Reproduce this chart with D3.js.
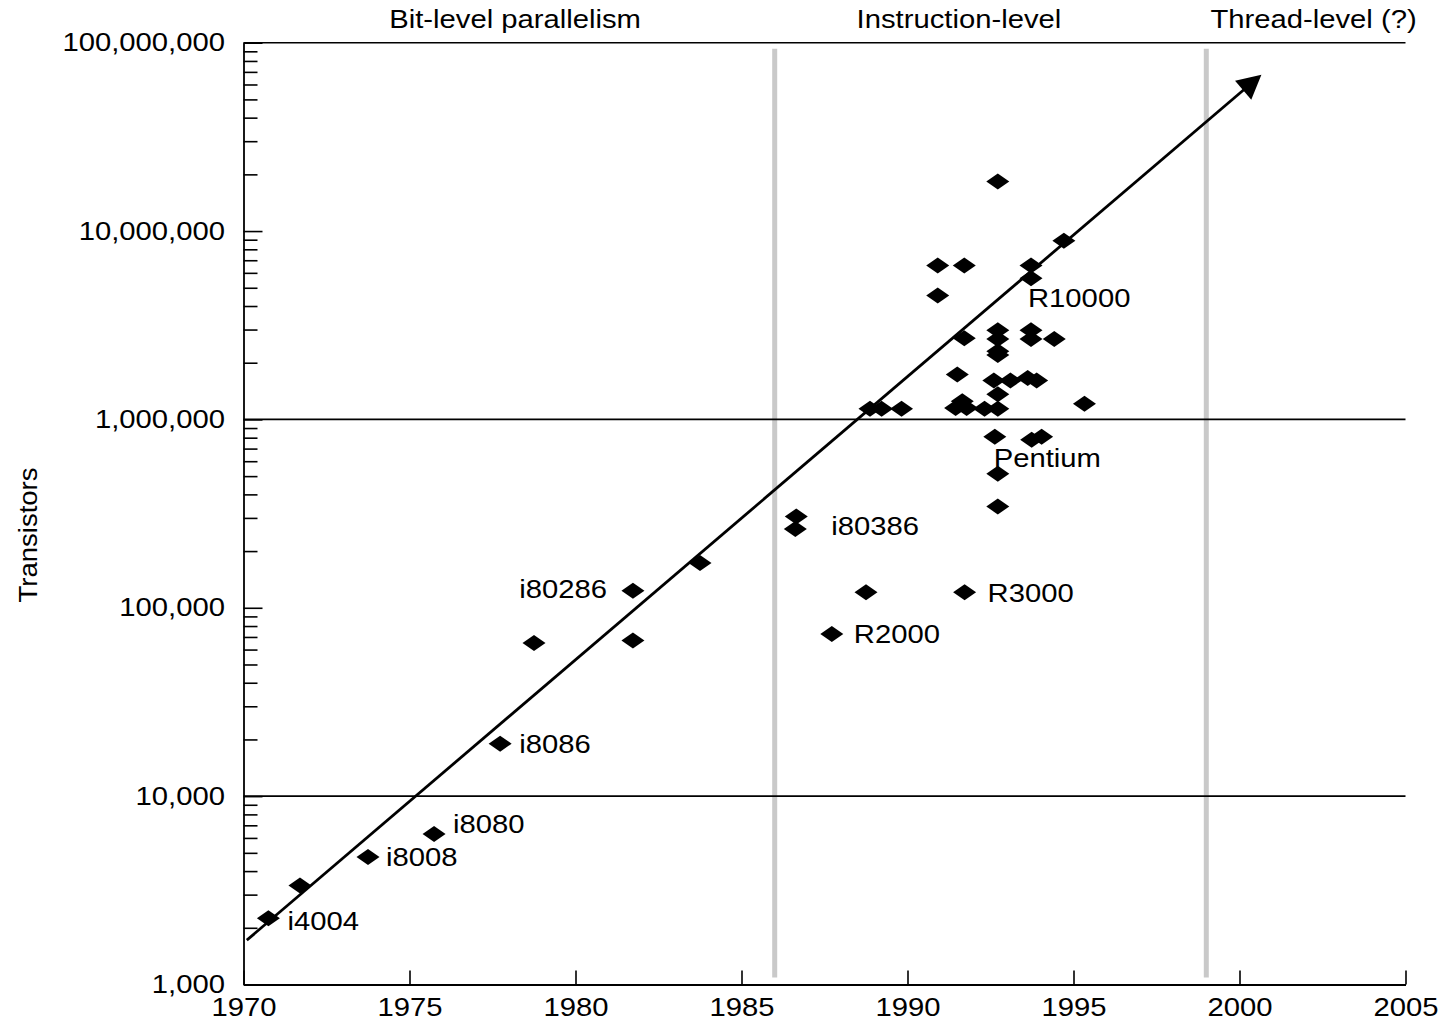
<!DOCTYPE html>
<html><head><meta charset="utf-8">
<script src="https://cdn.jsdelivr.net/npm/d3@7"></script>
<style>
body{margin:0;background:#fff}
text{font-family:"Liberation Sans",Arial,Helvetica,sans-serif;fill:#000}
</style>
</head><body>
<svg id="chart" width="1443" height="1021"></svg>
<script>
// ---------- data ----------
const years = [1970.75,1971.70,1973.75,1975.74,1977.73,1978.75,1981.73,1981.73,1983.75,
  1986.65,1986.62,1987.72,1988.75,1991.72,
  1988.87,1989.22,1989.82,1990.91,1990.91,1991.71,1991.71,1991.50,1991.45,1991.65,1991.78,
  1992.32,1992.72,1992.72,1992.72,1992.72,1992.72,1992.60,1992.72,1992.72,1992.63,1992.72,1992.72,
  1993.10,1993.62,1993.89,1993.72,1993.72,1993.72,1993.72,1993.74,1994.04,1994.42,1994.71,1995.33];
const transistors = [2250,3350,4750,6300,19000,65000,123000,67000,173000,
  305000,262000,72500,121000,121000,
  1140000,1140000,1140000,6560000,4550000,6560000,2700000,1730000,1150000,1250000,1150000,
  1140000,18300000,2970000,2670000,2300000,2200000,1610000,1360000,1140000,810000,514000,345000,
  1610000,1660000,1610000,6560000,5620000,2970000,2670000,780000,810000,2670000,8870000,1210000];

const labelNames  = ["i4004","i8008","i8080","i8086","i80286","i80386","R2000","R3000","Pentium","R10000"];
const labelYears  = [1970.75,1973.75,1975.74,1977.73,1981.73,1986.65,1987.72,1991.72,1993.74,1993.72];
const labelValues = [2250,4750,6300,19000,123000,305000,72500,121000,780000,5620000];

const eraNames   = ["Bit-level parallelism","Instruction-level","Thread-level (?)"];
const eraCenters = [1978.18,1991.55,2002.23];
const eraBoundaries = [1986,1999];

const xTicks = [1970,1975,1980,1985,1990,1995,2000,2005];
const yTicks = [1e3,1e4,1e5,1e6,1e7,1e8];
const yGridValues = [1e4,1e6];

const trendYears  = [1970.1,2000.66];
const trendValues = [1720,6.76e7];

// ---------- layout / style ----------
const W = 1443, H = 1021;
const FS = 25, STRETCH = 1.17;
const labelOffsets = [[19,12,"start"],[18,9,"start"],[19,-1,"start"],[19,9,"start"],[-26,7,"end"],
  [35,18,"start"],[22,9,"start"],[23,10,"start"],[-38,27,"start"],[-3,29,"start"]];

const svg = d3.select("#chart");
svg.append("rect").attr("width",W).attr("height",H).attr("fill","#fff");

const x = d3.scaleLinear().domain([1970,2005]).range([243.5,1405.5]);
const y = d3.scaleLog().domain([1e3,1e8]).range([984.5,42.7]);

function stretch(sel, s){
  sel.each(function(){
    const t = d3.select(this);
    const tx = +t.attr("x") || 0, ty = +t.attr("y") || 0;
    t.attr("x",0).attr("y",0).attr("transform",`translate(${tx},${ty}) scale(${s},1)`);
  });
}

// era boundaries (gray)
svg.append("g").selectAll("line").data(eraBoundaries).join("line")
  .attr("x1",d=>x(d)).attr("x2",d=>x(d))
  .attr("y1",y(1e8)+6).attr("y2",y(1e3)-7)
  .attr("stroke","#c9c9c9").attr("stroke-width",5);

// grid lines + top line
svg.append("g").selectAll("line").data(yGridValues.concat([1e8])).join("line")
  .attr("x1",x(1970)).attr("x2",x(2005))
  .attr("y1",d=>y(d)).attr("y2",d=>y(d))
  .attr("stroke","#000").attr("stroke-width",1.6);

// minor y ticks
const minorVals = [];
for (let e=3;e<8;e++) for (let m=2;m<=9;m++) minorVals.push(m*Math.pow(10,e));
svg.append("g").attr("transform",`translate(${x(1970)},0)`)
  .call(d3.axisLeft(y).tickValues(minorVals).tickSizeInner(-14).tickSizeOuter(0).tickFormat(""))
  .call(g=>g.selectAll("line").attr("stroke-width",1.6))
  .call(g=>g.select(".domain").remove());

// major y axis
const yAx = svg.append("g").attr("transform",`translate(${x(1970)},0)`)
  .call(d3.axisLeft(y).tickValues(yTicks).tickSizeInner(-19).tickSizeOuter(0).tickPadding(18.5)
    .tickFormat(d3.format(",")));
yAx.select(".domain").attr("stroke-width",1.8);
yAx.selectAll("line").attr("stroke-width",1.6);
yAx.selectAll("text").attr("font-size",FS).attr("font-family",null);
stretch(yAx.selectAll("text"), STRETCH);

// x axis
const xAx = svg.append("g").attr("transform",`translate(0,${y(1e3)})`)
  .call(d3.axisBottom(x).tickValues(xTicks).tickSizeInner(-14).tickSizeOuter(0).tickPadding(14)
    .tickFormat(d3.format("d")));
xAx.select(".domain").attr("stroke-width",1.8);
xAx.selectAll("line").attr("stroke-width",1.6);
xAx.selectAll("text").attr("font-size",FS).attr("font-family",null);
stretch(xAx.selectAll("text"), STRETCH);

// y title
svg.append("text").attr("transform",`translate(37,535) rotate(-90) scale(1.1,1)`)
  .attr("text-anchor","middle").attr("font-size",FS).text("Transistors");

// era titles
const eraT = svg.append("g").selectAll("text").data(eraNames).join("text")
  .attr("x",(d,i)=>x(eraCenters[i])).attr("y",28)
  .attr("text-anchor","middle").attr("font-size",FS).text(d=>d);
stretch(eraT, STRETCH);

// trend line with arrow
const p0 = [x(trendYears[0]), y(trendValues[0])];
const p1 = [x(trendYears[1]), y(trendValues[1])];
const len = Math.hypot(p1[0]-p0[0], p1[1]-p0[1]);
const u = [(p1[0]-p0[0])/len, (p1[1]-p0[1])/len];
const nrm = [-u[1], u[0]];
const AL = 24, AW = 25;
const base = [p1[0]-AL*u[0], p1[1]-AL*u[1]];
svg.append("line").attr("x1",p0[0]).attr("y1",p0[1]).attr("x2",base[0]+2*u[0]).attr("y2",base[1]+2*u[1])
  .attr("stroke","#000").attr("stroke-width",2.8);
svg.append("polygon")
  .attr("points",[p1,[base[0]+nrm[0]*AW/2, base[1]+nrm[1]*AW/2],[base[0]-nrm[0]*AW/2, base[1]-nrm[1]*AW/2]]
    .map(p=>p.join(",")).join(" "))
  .attr("fill","#000");

// diamonds
const DW = 11.5, DH = 8;
svg.append("g").selectAll("path").data(years.map((yr,i)=>[yr,transistors[i]])).join("path")
  .attr("d",d=>{const cx=x(d[0]), cy=y(d[1]);
    return `M${cx-DW},${cy}L${cx},${cy-DH}L${cx+DW},${cy}L${cx},${cy+DH}Z`;})
  .attr("fill","#000");

// point labels
const lab = svg.append("g").selectAll("text").data(labelNames).join("text")
  .attr("x",(d,i)=>x(labelYears[i])+labelOffsets[i][0])
  .attr("y",(d,i)=>y(labelValues[i])+labelOffsets[i][1])
  .attr("text-anchor",(d,i)=>labelOffsets[i][2])
  .attr("font-size",FS).text(d=>d);
stretch(lab, STRETCH);
</script>
</body></html>
